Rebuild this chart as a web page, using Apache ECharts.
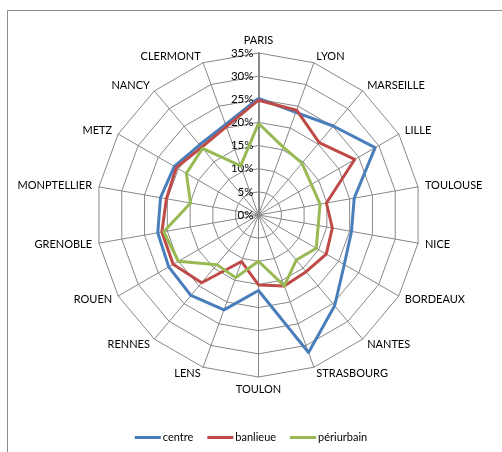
<!DOCTYPE html>
<html>
<head>
<meta charset="utf-8">
<script src="https://cdn.jsdelivr.net/npm/echarts@6/dist/echarts.min.js"></script>
<style>
html,body{margin:0;padding:0;background:#fff;}
#c{width:502px;height:452px;}
</style>
</head>
<body>
<div id="c"></div>
<script>
var categories = ['PARIS','LYON','MARSEILLE','LILLE','TOULOUSE','NICE','BORDEAUX','NANTES','STRASBOURG','TOULON','LENS','RENNES','ROUEN','GRENOBLE','MONPTELLIER','METZ','NANCY','CLERMONT'];
var centre     = [25.2, 23.6, 25.1, 29.1, 21.0, 20.4, 21.4, 25.6, 31.6, 16.3, 21.8, 22.7, 22.4, 22.1, 21.5, 21.0, 19.8, 20.8];
var banlieue   = [24.8, 24.1, 20.4, 24.0, 14.9, 16.2, 16.9, 16.0, 16.3, 15.1, 10.7, 19.1, 21.3, 21.2, 20.2, 20.5, 19.1, 20.3];
var periurbain = [19.8, 15.6, 14.6, 13.2, 13.5, 13.1, 14.4, 12.7, 16.3, 10.0, 14.4, 14.0, 20.0, 20.8, 14.9, 18.0, 18.8, 11.3];
var seriesNames = ['centre','banlieue','périurbain'];
var colors = ['#4A7EBB','#BE4B48','#98B954'];
var axisMax = 35, axisStep = 5;

var FONT = 'Lato';
// ECharts radar runs counter-clockwise; reorder so the categories run clockwise from the top
var n = categories.length;
var order = [0];
for (var k = n - 1; k >= 1; k--) order.push(k);
function reorder(arr){ return order.map(function(i){ return arr[i]; }); }

var indicator = reorder(categories).map(function(name, i){
  var o = {name: name, min: 0, max: axisMax};
  if (i === 0) {
    o.axisLabel = {show: true};
    o.axisLine = {lineStyle: {color: '#8a8a8a', width: 2}};
  }
  return o;
});

var chart = echarts.init(document.getElementById('c'), null, {renderer:'canvas'});
chart.setOption({
  animation: false,
  textStyle: {fontFamily: FONT},
  graphic: [{
    type: 'rect', silent: true,
    shape: {x: 7.5, y: 10.5, width: 700, height: 700},
    style: {fill: null, stroke: '#8c8c8c', lineWidth: 1}
  }],
  legend: {
    bottom: 4, left: 'center',
    icon: 'rect', itemWidth: 26, itemHeight: 3, itemGap: 14,
    textStyle: {fontFamily: FONT, fontSize: 11, color: '#000', padding: [0,0,0,-3]},
    data: seriesNames
  },
  radar: {
    center: [258.5, 215],
    radius: 162,
    startAngle: 90,
    shape: 'polygon',
    splitNumber: axisMax / axisStep,
    indicator: indicator,
    axisName: {color: '#000', fontFamily: FONT, fontSize: 11},
    nameGap: 7,
    splitArea: {show: false},
    splitLine: {lineStyle: {color: '#878787', width: 1}},
    axisLine: {lineStyle: {color: '#878787', width: 1}},
    axisTick: {show: false},
    axisLabel: {show: false, formatter: '{value}%', color: '#000', fontFamily: FONT, fontSize: 11.5, margin: 5}
  },
  series: [{
    type: 'radar',
    symbol: 'none',
    data: [
      {name: seriesNames[0], value: reorder(centre), lineStyle: {color: colors[0], width: 3}, itemStyle: {color: colors[0]}},
      {name: seriesNames[1], value: reorder(banlieue), lineStyle: {color: colors[1], width: 3}, itemStyle: {color: colors[1]}},
      {name: seriesNames[2], value: reorder(periurbain), lineStyle: {color: colors[2], width: 3}, itemStyle: {color: colors[2]}}
    ]
  }]
});
</script>
</body>
</html>
